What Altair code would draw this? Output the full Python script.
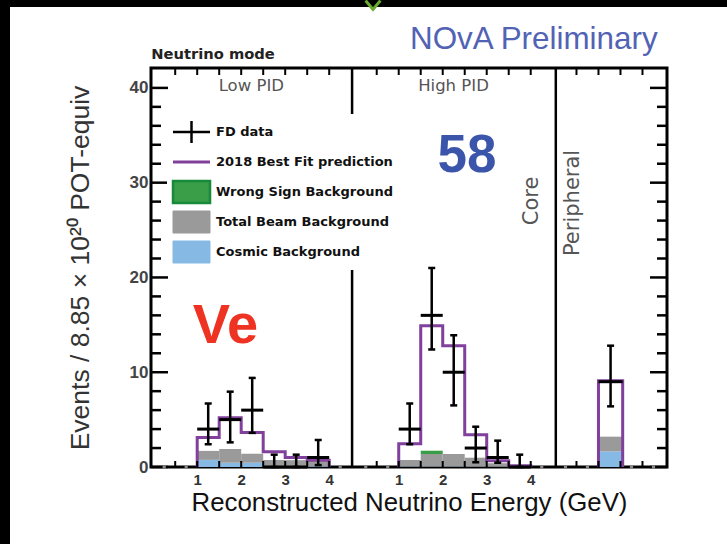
import altair as alt
import pandas as pd

# ---------------- values ----------------
bin_lo = [1.0, 1.5, 2.0, 2.5, 3.0, 3.5]
bin_hi = [1.5, 2.0, 2.5, 3.0, 3.5, 4.0]
bin_mid = [1.25, 1.75, 2.25, 2.75, 3.25, 3.75]

low_pred = [3.1, 5.2, 3.65, 1.6, 1.0, 0.7]
low_cosmic = [0.75, 0.45, 0.45, 0.12, 0.08, 0.08]
low_beam = [0.95, 1.45, 0.95, 0.62, 0.64, 0.62]
low_wrong = [0.0, 0.0, 0.0, 0.0, 0.0, 0.0]
low_data = [4, 5, 6, 0, 0, 1]
low_err_lo = [2.4, 2.6, 3.6, 0.0, 0.0, 0.2]
low_err_hi = [6.7, 7.95, 9.4, 1.3, 1.3, 2.85]

high_pred = [2.45, 14.9, 12.8, 3.4, 0.65, 0.12]
high_cosmic = [0.05, 0.05, 0.05, 0.04, 0.03, 0.02]
high_beam = [0.69, 1.32, 1.32, 0.94, 0.37, 0.08]
high_wrong = [0.0, 0.35, 0.0, 0.0, 0.0, 0.0]
high_data = [4, 16, 10, 2, 1, 0]
high_err_lo = [2.4, 12.4, 6.5, 0.5, 0.45, 0.0]
high_err_hi = [6.7, 21.0, 13.9, 4.25, 2.78, 1.3]

per_lo = [1.0]
per_hi = [1.55]
per_mid = [1.275]
per_pred = [9.1]
per_cosmic = [1.65]
per_beam = [1.55]
per_wrong = [0.0]
per_data = [9]
per_err_lo = [6.4]
per_err_hi = [12.8]

zero_pts_main = [0.25, 0.75, 4.25]
zero_pts_per = [0.25, 0.75, 1.75, 2.25]

x_tick_labels = [1, 2, 3, 4]
y_tick_labels = [0, 10, 20, 30, 40]
y_minor = [2, 4, 6, 8, 12, 14, 16, 18, 22, 24, 26, 28, 32, 34, 36, 38]
e_ticks_main = [0.5, 1.0, 1.5, 2.0, 2.5, 3.0, 3.5, 4.0]
e_ticks_per = [0.5, 1.0, 1.5, 2.0]

leg_names = ["FD data", "2018 Best Fit prediction", "Wrong Sign Background",
             "Total Beam Background", "Cosmic Background"]

# ---------------- layout / style ----------------
PURPLE = "#80409b"
GRAY = "#9a9a9a"
BLUE = "#86b9e3"
GREEN = "#3a9d48"
GREEN_EDGE = "#178a38"

W, H = 516, 399
PAD_L, PAD_T, PAD_R, PAD_B = 151, 68, 60, 77
PX_PER_UNIT = 44.0
XMAX = W / PX_PER_UNIT
YMAX = 42.1
PX_PER_Y = H / YMAX
OFF = {"low": 0.05, "high": 4.63, "per": 9.17}
DIV = [4.57, 9.2]

XS = alt.Scale(domain=[0, XMAX], nice=False, zero=False)
YS = alt.Scale(domain=[0, YMAX], nice=False, zero=False)

xlabel_vals = [v + OFF["low"] for v in x_tick_labels] + [v + OFF["high"] for v in x_tick_labels]
XAXIS = alt.Axis(values=xlabel_vals, ticks=False, domain=False, grid=False,
                 labelExpr=f"datum.value < {DIV[0]} ? format(datum.value - {OFF['low']}, '.0f') : format(datum.value - {OFF['high']}, '.0f')",
                 labelFont="Liberation Sans", labelFontSize=15, labelFontWeight="bold",
                 labelColor="#333", labelPadding=5,
                 title="Reconstructed Neutrino Energy (GeV)", titleFont="Liberation Sans",
                 titleFontSize=25.8, titleFontWeight="normal", titleColor="#111", titlePadding=3)
YAXIS = alt.Axis(values=y_tick_labels, ticks=False, domain=False, grid=False,
                 labelFont="Liberation Sans", labelFontSize=17, labelFontWeight="bold",
                 labelColor="#444", labelPadding=3,
                 title="Events / 8.85 × 10²⁰ POT-equiv", titleFont="Liberation Sans",
                 titleFontSize=26.5, titleFontWeight="normal", titleColor="#333", titlePadding=35)


def X(f):
    return alt.X(f, type="quantitative", scale=XS, axis=XAXIS)


def Y(f):
    return alt.Y(f, type="quantitative", scale=YS, axis=YAXIS)


def XD(v):
    return alt.XDatum(v, type="quantitative", scale=XS, axis=XAXIS)


def YD(v):
    return alt.YDatum(v, type="quantitative", scale=YS, axis=YAXIS)


def PX(f):
    return alt.X(f, type="quantitative", scale=None)


def PY(f):
    return alt.Y(f, type="quantitative", scale=None)


# ---------------- build tables ----------------
panels = [
    ("low", bin_lo, bin_hi, bin_mid, low_pred, low_cosmic, low_beam, low_wrong, low_data, low_err_lo, low_err_hi),
    ("high", bin_lo, bin_hi, bin_mid, high_pred, high_cosmic, high_beam, high_wrong, high_data, high_err_lo, high_err_hi),
    ("per", per_lo, per_hi, per_mid, per_pred, per_cosmic, per_beam, per_wrong, per_data, per_err_lo, per_err_hi),
]
bars, steps, pts = [], [], []
for name, lo, hi, mid, pred, cos, beam, wrong, dat, elo, ehi in panels:
    o = OFF[name]
    k = 0
    steps.append(dict(panel=name, i=k, x=lo[0] + o, y=0.0)); k += 1
    for j in range(len(lo)):
        a, b = lo[j] + o, hi[j] + o
        bars.append(dict(comp="cosmic", x=a, x2=b, y=0.0, y2=cos[j]))
        bars.append(dict(comp="beam", x=a, x2=b, y=cos[j], y2=cos[j] + beam[j]))
        if wrong[j] > 0:
            bars.append(dict(comp="wrong", x=a, x2=b, y=cos[j] + beam[j], y2=cos[j] + beam[j] + wrong[j]))
        steps.append(dict(panel=name, i=k, x=a, y=pred[j])); k += 1
        pts.append(dict(x=mid[j] + o, x1=a, x2=b, n=dat[j], lo=elo[j], hi=ehi[j]))
    steps.append(dict(panel=name, i=k, x=hi[-1] + o, y=pred[-1])); k += 1
    steps.append(dict(panel=name, i=k, x=hi[-1] + o, y=0.0)); k += 1

bars = pd.DataFrame(bars)
steps = pd.DataFrame(steps)
pts = pd.DataFrame(pts)

zero_df = pd.DataFrame({"x": [v + OFF["low"] for v in zero_pts_main] + [v + OFF["high"] for v in zero_pts_main]
                        + [v + OFF["per"] for v in zero_pts_per], "y": 0.0})
etick_df = pd.DataFrame({"x": [v + OFF["low"] for v in e_ticks_main] + [v + OFF["high"] for v in e_ticks_main]
                         + [v + OFF["per"] for v in e_ticks_per]})
etick_df["y0"], etick_df["y1"] = 0.0, 6 / PX_PER_Y
etick_df["t0"], etick_df["t1"] = YMAX, YMAX - 7 / PX_PER_Y
major_len, minor_len = 17 / PX_PER_UNIT, 10 / PX_PER_UNIT
ytick_df = pd.DataFrame({"y": y_tick_labels + y_minor,
                         "len": [major_len] * len(y_tick_labels) + [minor_len] * len(y_minor)})
ytick_df["l0"], ytick_df["l1"] = 0.0, ytick_df["len"]
ytick_df["r0"], ytick_df["r1"] = XMAX, XMAX - ytick_df["len"]
div_df = pd.DataFrame({"x": DIV, "y0": 0.0, "y1": YMAX})
leg_df = pd.DataFrame({"series": leg_names, "i": list(range(len(leg_names)))})
one = pd.DataFrame({"k": [0]})

# ---------------- decoration: black screenshot frame (as large symbols) ----------------
TOP_SIDE = 727.0
top_half_h = 3.5 / (TOP_SIDE / 2)
frame_top = alt.Chart(one).mark_point(
    shape=f"M-1,-{top_half_h:.5f}H1V{top_half_h:.5f}H-1Z", size=TOP_SIDE ** 2,
    filled=True, color="black", strokeWidth=0, opacity=1
).encode(x=alt.value(TOP_SIDE / 2 - PAD_L), y=alt.value(3.5 - PAD_T))
LEFT_SIDE = 1088.0
s = LEFT_SIDE / 2
frame_left = alt.Chart(one).mark_point(
    shape=f"M{-PAD_L / s:.5f},-1H{(10 - PAD_L) / s:.5f}V1H{-PAD_L / s:.5f}Z", size=LEFT_SIDE ** 2,
    filled=True, color="black", strokeWidth=0, opacity=1
).encode(x=alt.value(0), y=alt.value(272 - PAD_T))
chevron = alt.Chart(one).mark_point(
    shape="M-1,-0.6L0,0.6L1,-0.6", size=220, strokeWidth=3, color="#6aaa30", filled=False, opacity=1
).encode(x=alt.value(222), y=alt.value(-63))

# ---------------- plot layers ----------------
comp_colors = alt.Scale(domain=["cosmic", "beam", "wrong"], range=[BLUE, GRAY, GREEN])
bars_layer = alt.Chart(bars).mark_rect(strokeWidth=0).encode(
    x=X("x"), x2="x2", y=Y("y"), y2="y2",
    fill=alt.Fill("comp:N", scale=comp_colors, legend=None))

step_layer = alt.Chart(steps).mark_line(interpolate="step-after", color=PURPLE, strokeWidth=3).encode(
    x=X("x"), y=Y("y"), detail="panel:N", order="i:Q")

div_layer = alt.Chart(div_df).mark_rule(color="black", strokeWidth=2.5).encode(x=X("x"), y=Y("y0"), y2="y1")

bt_layer = alt.Chart(etick_df).mark_rule(color="black", strokeWidth=2).encode(x=X("x"), y=Y("y0"), y2="y1")
tt_layer = alt.Chart(etick_df).mark_rule(color="black", strokeWidth=2).encode(x=X("x"), y=Y("t0"), y2="t1")
lt_layer = alt.Chart(ytick_df).mark_rule(color="black", strokeWidth=2.5).encode(x=X("l0"), x2="l1", y=Y("y"))
rt_layer = alt.Chart(ytick_df).mark_rule(color="black", strokeWidth=2.5).encode(x=X("r0"), x2="r1", y=Y("y"))

zero_layer = alt.Chart(zero_df).mark_square(size=10, color="#8a8a8a", opacity=1).encode(x=X("x"), y=Y("y"))

err_layer = alt.Chart(pts).mark_rule(color="black", strokeWidth=2.5).encode(x=X("x"), y=Y("lo"), y2="hi")
hbar_layer = alt.Chart(pts).mark_rule(color="black", strokeWidth=3).encode(x=X("x1"), x2="x2", y=Y("n"))
cap_hi = alt.Chart(pts).mark_tick(orient="horizontal", size=7, thickness=2.5, color="black", opacity=1).encode(
    x=X("x"), y=Y("hi"))
cap_lo = alt.Chart(pts).mark_tick(orient="horizontal", size=7, thickness=2.5, color="black", opacity=1).encode(
    x=X("x"), y=Y("lo"))


def label(text, x, y, **kw):
    return alt.Chart(one).mark_text(text=text, **kw).encode(x=XD(x), y=YD(y))


texts = [
    label("Low PID", 2.28, 40.2, font="DejaVu Sans", fontSize=16.5, color="#555"),
    label("High PID", 6.875, 40.2, font="DejaVu Sans", fontSize=16.5, color="#555"),
    label("58", 7.18, 32.8, font="Liberation Sans", fontSize=53, fontWeight="bold", color="#3b55aa"),
    label("Ve", 1.69, 14.9, font="Liberation Sans", fontSize=56, fontWeight="bold", color="#ee3322"),
    label("Core", 8.66, 28.07, font="DejaVu Sans", fontSize=21, color="#555", angle=270),
    label("Peripheral", 9.59, 27.86, font="DejaVu Sans", fontSize=21, color="#555", angle=270),
    label("Neutrino mode", 1.41, 43.47, font="DejaVu Sans", fontSize=14.7, fontWeight="bold", color="#222"),
    label("NOvA Preliminary", 8.7, 45.1, font="Liberation Sans", fontSize=31.4, color="#5262b4"),
]

# ---------------- legend (drawn box, entries from leg_names) ----------------
LEG_TOP, LEG_STEP, SYM_L, SYM_R, SYM_H = 64, 30, 22, 59, 11


def leg_base():
    return alt.Chart(leg_df).transform_calculate(
        ly=f"{LEG_TOP} + {LEG_STEP} * datum.i",
        ly0=f"{LEG_TOP} + {LEG_STEP} * datum.i - {SYM_H}",
        ly1=f"{LEG_TOP} + {LEG_STEP} * datum.i + {SYM_H}",
        lx0=f"{SYM_L}", lx1=f"{SYM_R}", lxc=f"{(SYM_L + SYM_R) / 2}", lxt="65",
    )


leg_bg = alt.Chart(one).transform_calculate(
    bx0="16", bx1="250", by0="46", by1="202",
).mark_rect(color="white", opacity=1).encode(x=PX("bx0:Q"), x2="bx1:Q", y=PY("by0:Q"), y2="by1:Q")

leg_text = leg_base().mark_text(align="left", baseline="middle", font="DejaVu Sans", fontSize=13,
                                fontWeight="bold", color="#111").encode(
    x=PX("lxt:Q"), y=PY("ly:Q"), text="series:N")
leg_plus_h = leg_base().transform_filter(alt.datum.i == 0).mark_rule(color="black", strokeWidth=2.5).encode(
    x=PX("lx0:Q"), x2="lx1:Q", y=PY("ly:Q"))
leg_plus_v = leg_base().transform_filter(alt.datum.i == 0).mark_rule(color="black", strokeWidth=2.5).encode(
    x=PX("lxc:Q"), y=PY("ly0:Q"), y2="ly1:Q")
leg_line = leg_base().transform_filter(alt.datum.i == 1).mark_rule(color=PURPLE, strokeWidth=3).encode(
    x=PX("lx0:Q"), x2="lx1:Q", y=PY("ly:Q"))
leg_wrong = leg_base().transform_filter(alt.datum.i == 2).mark_rect(
    fill=GREEN, stroke=GREEN_EDGE, strokeWidth=2.5).encode(x=PX("lx0:Q"), x2="lx1:Q", y=PY("ly0:Q"), y2="ly1:Q")
leg_beam = leg_base().transform_filter(alt.datum.i == 3).mark_rect(
    fill=GRAY, stroke=GRAY, strokeWidth=1).encode(x=PX("lx0:Q"), x2="lx1:Q", y=PY("ly0:Q"), y2="ly1:Q")
leg_cos = leg_base().transform_filter(alt.datum.i == 4).mark_rect(
    fill=BLUE, stroke=BLUE, strokeWidth=1).encode(x=PX("lx0:Q"), x2="lx1:Q", y=PY("ly0:Q"), y2="ly1:Q")

chart = alt.layer(
    bars_layer, step_layer, div_layer,
    bt_layer, tt_layer, lt_layer, rt_layer, zero_layer,
    err_layer, hbar_layer, cap_hi, cap_lo,
    leg_bg, leg_text, leg_plus_h, leg_plus_v, leg_line, leg_wrong, leg_beam, leg_cos,
    *texts,
    frame_top, frame_left, chevron,
).properties(
    width=W, height=H,
    padding={"left": PAD_L, "top": PAD_T, "right": PAD_R, "bottom": PAD_B},
    autosize=alt.AutoSizeParams(type="none"),
    background="white",
).configure_view(stroke="black", strokeWidth=3)

chart.save("out.html", embed_options={"renderer": "svg", "actions": False})
